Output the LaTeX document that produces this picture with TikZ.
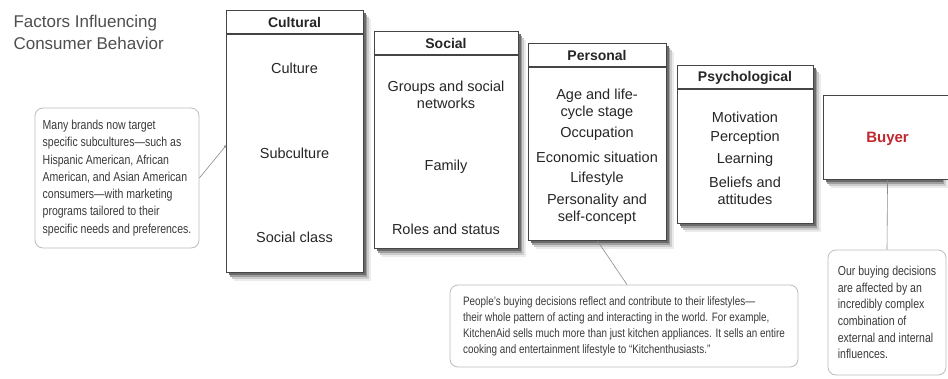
\documentclass[tikz,border=0pt]{standalone}
\usepackage{fontspec}
\setmainfont{Liberation Sans}
\newfontfamily\narrowfont[FakeStretch=0.81]{Liberation Sans}
\usetikzlibrary{arrows.meta}

\definecolor{boxline}{HTML}{454545}
\definecolor{noteline}{HTML}{BDBDBD}
\definecolor{notetext}{HTML}{3A3A3A}
\definecolor{buyerred}{HTML}{C1272D}
\definecolor{titlegray}{HTML}{4F4F4F}

\tikzset{
  factor/.style={draw=boxline, line width=1.1pt, fill=white, anchor=north west, inner sep=0pt},
  head/.style={font=\fontsize{14}{16}\selectfont\bfseries, text=black!85},
  item/.style={font=\fontsize{14.5}{17}\selectfont, text=black!85, align=center},
  note/.style={draw=noteline, line width=0.8pt, rounded corners=8pt, fill=white, align=left,
    text=notetext, inner sep=0pt},
  pointer/.style={draw=black!45, line width=0.6pt}
}

\begin{document}
\begin{tikzpicture}[x=1pt,y=-1pt]
\fill[white] (0,0) rectangle (948,378);
\useasboundingbox (0,0) rectangle (948,378);

% Title
\node[anchor=base west, font=\fontsize{17}{22}\selectfont, text=titlegray] (title1) at (10,27) {Factors Influencing};
\node[anchor=base west, font=\fontsize{17}{22}\selectfont, text=titlegray] (title2) at (10,49) {Consumer Behavior};

% Soft shadows under the factor boxes (left/top/right/bottom)
\foreach \l/\t/\r/\b in {226/10/363/272, 374/31/518/248, 528/43/666/240, 677/65/813/223, 823/95/940/179} {
  \fill[black!8]  (\l+8,\t+9) rectangle (\r+8,\b+9);
  \fill[black!20] (\l+6,\t+7) rectangle (\r+6,\b+7);
  \fill[black!38] (\l+4,\t+5) rectangle (\r+4,\b+5);
  \fill[black!58] (\l+2.5,\t+3) rectangle (\r+2.5,\b+3);
}

% Cultural factors
\node[factor, minimum width=137pt, minimum height=262pt] (cultural) at (226,10) {};
\draw[boxline, line width=1.1pt] ([yshift=-24pt]cultural.north west) -- ([yshift=-24pt]cultural.north east);
\node[head] (culturalhead) at (294.5,22.5) {Cultural};
\node[item] (culture) at (294.5,68) {Culture};
\node[item] (subculture) at (294.5,153) {Subculture};
\node[item] (socialclass) at (294.5,237) {Social class};

% Social factors
\node[factor, minimum width=144pt, minimum height=217pt] (social) at (374,31) {};
\draw[boxline, line width=1.1pt] ([yshift=-24pt]social.north west) -- ([yshift=-24pt]social.north east);
\node[head] (socialhead) at (446,43.5) {Social};
\node[item] (groups) at (446,95) {Groups and social\\networks};
\node[item] (family) at (446,167) {Family};
\node[item] (roles) at (446,229) {Roles and status};

% Personal factors
\node[factor, minimum width=138pt, minimum height=197pt] (personal) at (528,43) {};
\draw[boxline, line width=1.1pt] ([yshift=-24pt]personal.north west) -- ([yshift=-24pt]personal.north east);
\node[head] (personalhead) at (597,55.5) {Personal};
\node[item] (age) at (597,104.5) {Age and life-\\cycle stage};
\node[item] (occupation) at (597,134) {Occupation};
\node[item] (economic) at (597,157) {Economic situation};
\node[item] (lifestyle) at (597,179) {Lifestyle};
\node[item] (personality) at (597,209) {Personality and\\self-concept};

% Psychological factors
\node[factor, minimum width=136pt, minimum height=158pt] (psych) at (677,65) {};
\draw[boxline, line width=1.1pt] ([yshift=-24pt]psych.north west) -- ([yshift=-24pt]psych.north east);
\node[head] (psychhead) at (745,77.5) {Psychological};
\node[item] (motivation) at (745,117) {Motivation};
\node[item] (perception) at (745,138) {Perception};
\node[item] (learning) at (745,160) {Learning};
\node[item] (beliefs) at (745,190.5) {Beliefs and\\attitudes};

% Buyer (runs off the right edge)
\node[factor, minimum width=128pt, minimum height=84pt, font=\fontsize{15}{17}\selectfont\bfseries,
  text=buyerred, text depth=0pt] (buyer) at (823,95) {Buyer};

% Notes
\node[note, minimum width=164pt, minimum height=140pt, font=\narrowfont\fontsize{13}{17.3}\selectfont]
  (subnote) at (117,178) {Many brands now target\\specific subcultures—such as\\Hispanic American, African\\American, and Asian American\\consumers—with marketing\\programs tailored to their\\specific needs and preferences.};
\node[note, minimum width=348pt, minimum height=82pt, font=\narrowfont\fontsize{12.2}{16}\selectfont]
  (lifenote) at (624,326) {People’s buying decisions reflect and contribute to their lifestyles—\\their whole pattern of acting and interacting in the world. For example,\\KitchenAid sells much more than just kitchen appliances. It sells an entire\\cooking and entertainment lifestyle to “Kitchenthusiasts.”};
\node[note, minimum width=118pt, minimum height=125pt, font=\narrowfont\fontsize{13}{16.7}\selectfont]
  (buyernote) at (887,312.5) {Our buying decisions\\are affected by an\\incredibly complex\\combination of\\external and internal\\influences.};

% Pointers
\draw[pointer, -{Circle[length=2.5pt]}] (subnote.east) -- ([yshift=-4pt]cultural.west);
\draw[pointer] (personal.south) -- ([xshift=3pt]lifenote.north);
\draw[pointer] (buyer.south) -- (buyernote.north);
\end{tikzpicture}
\end{document}
